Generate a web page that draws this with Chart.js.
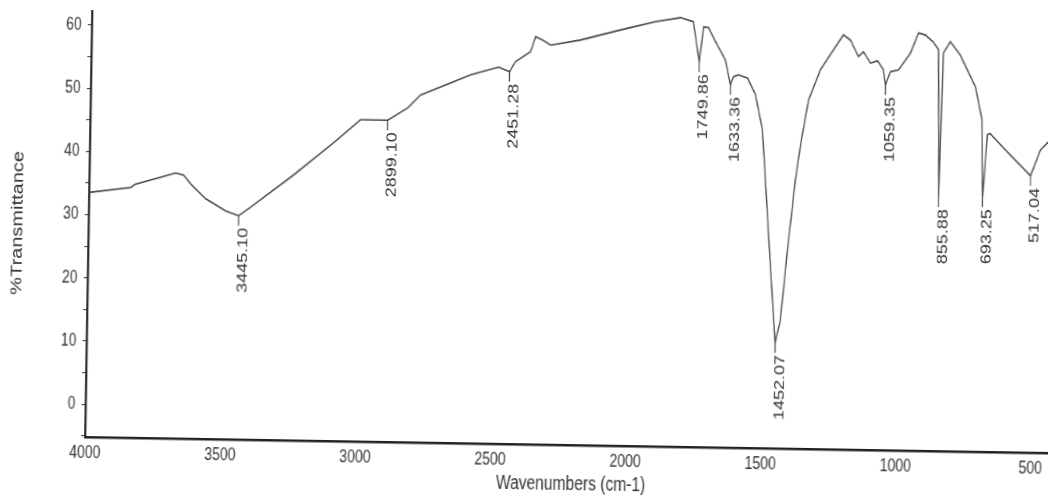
<!DOCTYPE html>
<html>
<head>
<meta charset="utf-8">
<title>IR spectrum</title>
<script src="https://cdn.jsdelivr.net/npm/chart.js@4.4.1/dist/chart.umd.min.js"></script>
<style>
  html, body { margin: 0; padding: 0; width: 1048px; height: 495px; overflow: hidden; background: #fff; }
  /* the scan is slightly tilted and squeezed sideways, so the canvas is too */
  #wrap {
    position: absolute; left: -24px; top: 0; width: 1370px; height: 495px;
    transform-origin: 109px 437px;
    transform: rotate(0.95deg) scale(0.78, 1);
  }
</style>
</head>
<body>
<div id="wrap"><canvas id="ir" width="1370" height="495"></canvas></div>
<script>
// spectrum (cm-1, %T)
const wavenumbers = [4000, 3846, 3830, 3736, 3681, 3651, 3624, 3568, 3493, 3445.10, 3401, 3244, 3098, 3000,
  2899.10, 2826, 2779, 2595, 2492, 2451.28, 2430, 2375, 2357, 2331, 2301, 2191, 2043, 1914, 1822, 1774,
  1749.86, 1736, 1718, 1691, 1653, 1633.36, 1622, 1604, 1570, 1540, 1512, 1498, 1473, 1452.07, 1434, 1412,
  1387, 1370, 1343, 1301, 1254, 1218, 1192, 1161, 1143, 1116, 1090, 1068, 1059.35, 1042, 1012, 969, 940,
  915, 885, 865, 855.88, 847, 822, 784, 726, 700, 693.25, 679, 670, 611, 517.04, 482, 453, 430];
const transmittance = [33.5, 34.4, 34.9, 36.1, 36.8, 36.5, 35.1, 32.8, 30.9, 30.2, 31.6, 36.8, 42.0, 45.7,
  45.7, 47.7, 49.8, 53.1, 54.4, 53.7, 55.3, 56.9, 59.3, 58.8, 58.0, 58.9, 60.6, 62.0, 62.7, 62.1,
  55.7, 61.3, 61.2, 59.0, 56.1, 52.2, 53.5, 53.8, 53.3, 50.7, 45.2, 37.3, 23.0, 11.5, 15.1, 26.2,
  37.3, 42.9, 50.0, 54.8, 58.0, 60.4, 59.6, 57.0, 57.8, 56.0, 56.4, 55.0, 52.6, 54.7, 55.0, 57.7, 60.9,
  60.6, 59.5, 58.3, 35.0, 57.8, 59.6, 57.5, 52.5, 47.3, 35.1, 45.0, 45.2, 42.6, 38.6, 42.7, 44.0, 44.4];

// labelled peaks
const peakWavenumbers = [3445.10, 2899.10, 2451.28, 1749.86, 1633.36, 1452.07, 1059.35, 855.88, 693.25, 517.04];
const peakValues = [30.2, 45.7, 53.7, 55.7, 52.2, 11.5, 52.6, 35.0, 35.1, 38.6];
const peakLabels = ['3445.10', '2899.10', '2451.28', '1749.86', '1633.36', '1452.07', '1059.35', '855.88', '693.25', '517.04'];

const xTicks = [4000, 3500, 3000, 2500, 2000, 1500, 1000, 500];
const yTicks = [0, 10, 20, 30, 40, 50, 60];
const yMinorTicks = [-5, 5, 15, 25, 35, 45, 55];

const textColor = '#333';
const lineColor = '#474747';
const fontFamily = '"Liberation Sans", Arial, sans-serif';

const peakMarks = {
    id: 'peakMarks',
    afterDatasetsDraw(chart) {
        const {ctx, scales: {x, y}} = chart;
        ctx.save();
        ctx.strokeStyle = lineColor;
        ctx.lineWidth = 1.4;
        ctx.fillStyle = textColor;
        ctx.font = '18px ' + fontFamily;
        peakWavenumbers.forEach((w, i) => {
            const px = x.getPixelForValue(w);
            const py = y.getPixelForValue(peakValues[i]);
            ctx.beginPath();
            ctx.moveTo(px, py);
            ctx.lineTo(px, py + 10);
            ctx.stroke();
            ctx.save();
            ctx.translate(px + 7, py + 12);
            ctx.rotate(-Math.PI / 2);
            ctx.textAlign = 'right';
            ctx.textBaseline = 'middle';
            ctx.fillText(peakLabels[i], 0, 0);
            ctx.restore();
        });
        ctx.restore();
    }
};

new Chart(document.getElementById('ir'), {
    type: 'line',
    data: {
        datasets: [{
            data: wavenumbers.map((w, i) => ({x: w, y: transmittance[i]})),
            borderColor: lineColor,
            borderWidth: 1.6,
            pointRadius: 0,
            tension: 0,
            fill: false,
            clip: false
        }]
    },
    options: {
        responsive: false,
        animation: false,
        layout: { padding: { top: 11, right: 14, left: 0, bottom: 0 } },
        plugins: { legend: { display: false }, tooltip: { enabled: false } },
        scales: {
            x: {
                type: 'linear',
                reverse: true,
                min: 400,
                max: 4000,
                afterBuildTicks: s => { s.ticks = xTicks.map(v => ({value: v})); },
                afterFit: s => { s.height = 58; s.paddingLeft = 0; s.paddingRight = 0; },
                grid: { display: false, drawTicks: false },
                border: { display: true, color: '#222', width: 2.5 },
                ticks: { autoSkip: false, maxRotation: 0, padding: 5, color: textColor,
                         font: { family: fontFamily, size: 18 },
                         callback: v => String(v) },
                title: { display: true, text: 'Wavenumbers (cm-1)', color: textColor,
                         padding: { top: 0, bottom: 7 },
                         font: { family: fontFamily, size: 20 } }
            },
            y: {
                min: -5.2,
                max: 62.2,
                afterBuildTicks: s => { s.ticks = yMinorTicks.concat(yTicks).sort((a, b) => a - b).map(v => ({value: v})); },
                afterFit: s => { s.width = 109; s.paddingTop = 0; s.paddingBottom = 0; },
                grid: { display: true, drawOnChartArea: false, drawTicks: true, tickLength: 5, color: '#555', lineWidth: 1.2 },
                border: { display: true, color: '#222', width: 2.5 },
                ticks: { autoSkip: false, padding: 8, color: textColor,
                         font: { family: fontFamily, size: 18 },
                         callback: v => yTicks.includes(v) ? String(v) : '' },
                title: { display: true, text: '%Transmittance', color: textColor,
                         padding: { top: 6, bottom: 0 },
                         font: { family: fontFamily, size: 20 } }
            }
        }
    },
    plugins: [peakMarks]
});
</script>
</body>
</html>
